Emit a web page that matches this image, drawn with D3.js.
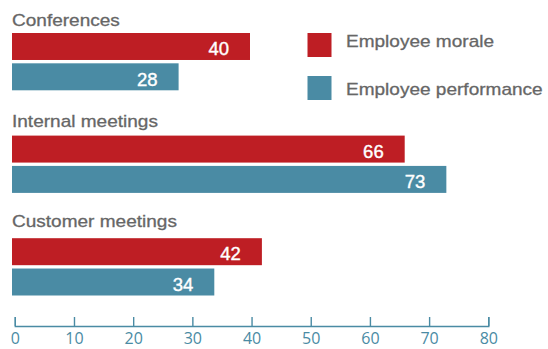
<!DOCTYPE html>
<html>
<head>
<meta charset="utf-8">
<script src="https://cdn.jsdelivr.net/npm/d3@7/dist/d3.min.js"></script>
<style>
  html, body { margin: 0; padding: 0; background: #fff; }
  svg { display: block; }
</style>
</head>
<body>
<svg id="chart" width="548" height="349"></svg>
<script>
// Meeting types and the two measures shown for each
const categories = ["Conferences", "Internal meetings", "Customer meetings"];
const seriesNames = ["Employee morale", "Employee performance"];
const morale = [40, 66, 42];
const performance = [28, 73, 34];
const tickValues = [0, 10, 20, 30, 40, 50, 60, 70, 80];

const colors = { "Employee morale": "#be1e24", "Employee performance": "#4a8ba4" };
const labelGray = "#666666";
const axisColor = "#4a8ba4";
const stretch = 1.12;

const rows = categories.map((c, i) => ({
  category: c,
  values: [
    { series: seriesNames[0], value: morale[i] },
    { series: seriesNames[1], value: performance[i] }
  ]
}));

const svg = d3.select("#chart");

// Horizontal value scales: bars and axis
const x = d3.scaleLinear().domain([0, 80]).range([12, 488]);
const xAxisScale = d3.scaleLinear().domain([0, 80]).range([14.8, 488.3]);

// Vertical layout of the groups and the bars inside them
const y = d3.scaleBand().domain(categories).range([33, 295.5])
  .paddingInner(0.4415).paddingOuter(0);
const yInner = d3.scaleBand().domain(seriesNames).range([0, y.bandwidth()])
  .paddingInner(0.11).paddingOuter(0);
const yLabel = d3.scalePoint().domain(categories).range([25.7, 227.3]);

const groups = svg.selectAll("g.group")
  .data(rows)
  .join("g")
  .attr("class", "group")
  .attr("transform", d => `translate(0,${y(d.category)})`);

groups.selectAll("rect")
  .data(d => d.values)
  .join("rect")
  .attr("x", x(0))
  .attr("y", d => yInner(d.series))
  .attr("width", d => x(d.value) - x(0))
  .attr("height", yInner.bandwidth())
  .attr("fill", d => colors[d.series]);

groups.selectAll("text.value")
  .data(d => d.values)
  .join("text")
  .attr("class", "value")
  .attr("x", d => x(d.value) - 21)
  .attr("y", d => yInner(d.series) + yInner.bandwidth() / 2 + 8.8)
  .attr("text-anchor", "end")
  .attr("fill", "#ffffff")
  .attr("stroke", "#ffffff")
  .attr("stroke-width", 0.4)
  .style("font-family", "'Liberation Sans', Arial, Helvetica, sans-serif")
  .style("font-size", "18.5px")
  .text(d => d.value);

// Group titles
svg.selectAll("text.cat")
  .data(categories)
  .join("text")
  .attr("class", "cat")
  .attr("transform", d => `translate(${x(0)},${yLabel(d)}) scale(${stretch},1)`)
  .attr("fill", labelGray)
  .attr("stroke", labelGray)
  .attr("stroke-width", 0.3)
  .style("font-family", "'Liberation Sans', Arial, Helvetica, sans-serif")
  .style("font-size", "17px")
  .text(d => d);

// Legend
const legSquare = d3.scalePoint().domain(seriesNames).range([33, 76]);
const legText = d3.scalePoint().domain(seriesNames).range([46.7, 94.5]);
const legend = svg.append("g").attr("class", "legend");
legend.selectAll("rect")
  .data(seriesNames)
  .join("rect")
  .attr("x", 307.5)
  .attr("y", d => legSquare(d))
  .attr("width", 24)
  .attr("height", 24)
  .attr("fill", d => colors[d]);
legend.selectAll("text")
  .data(seriesNames)
  .join("text")
  .attr("transform", d => `translate(346,${legText(d)}) scale(${stretch},1)`)
  .attr("fill", labelGray)
  .attr("stroke", labelGray)
  .attr("stroke-width", 0.3)
  .style("font-family", "'Liberation Sans', Arial, Helvetica, sans-serif")
  .style("font-size", "17px")
  .text(d => d);

// Bottom axis with upward ticks
const axis = d3.axisBottom(xAxisScale)
  .tickValues(tickValues)
  .tickSize(-9)
  .tickSizeOuter(-9)
  .tickPadding(0)
  .tickFormat(d3.format("d"));

const axisG = svg.append("g")
  .attr("transform", "translate(0,326)")
  .call(axis);
axisG.select(".domain").attr("stroke", axisColor).attr("stroke-width", 1.4);
axisG.selectAll(".tick line").attr("stroke", axisColor).attr("stroke-width", 1.4);
axisG.selectAll(".tick text")
  .attr("fill", axisColor)
  .attr("y", 18)
  .attr("dy", null)
  .style("font-family", "'Open Sans', 'Noto Sans', sans-serif")
  .style("font-size", "16px");
</script>
</body>
</html>
